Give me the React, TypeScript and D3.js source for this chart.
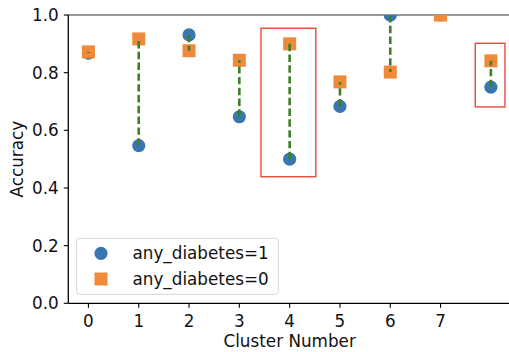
import React from "react";
import * as d3 from "d3";

// cluster index -> accuracy per group
const clusters = [0, 1, 2, 3, 4, 5, 6, 7, 8];
const tickClusters = [0, 1, 2, 3, 4, 5, 6, 7];
const accDiabetes1 = [0.868, 0.547, 0.931, 0.647, 0.5, 0.683, 1.0, 1.0, 0.75];
const accDiabetes0 = [0.872, 0.917, 0.876, 0.843, 0.9, 0.768, 0.802, 1.0, 0.841];
const yTicks = [0, 0.2, 0.4, 0.6, 0.8, 1.0];

// highlighted regions [x0, x1, y0, y1] in data units
const highlightBoxes = [
  [3.43, 4.52, 0.439, 0.954],
  [7.69, 8.28, 0.681, 0.902],
];

const legendItems = ["any_diabetes=1", "any_diabetes=0"];

const BLUE = "#3a76af";
const ORANGE = "#f08a3b";
const GREEN = "#3c7f24";
const FONT = "DejaVu Sans, sans-serif";
const FS = 16.8;

export default function App() {
  const width = 509;
  const height = 352;
  const left = 68.3, right = 511, top = 15, bottom = 303.3;

  const x = d3.scaleLinear().domain([-0.4, 8.4]).range([left, right]);
  const y = d3.scaleLinear().domain([0, 1]).range([bottom, top]);

  const markerR = 6.6;
  const sq = 13;

  return (
    <svg
      width={width}
      height={height}
      style={{ position: "absolute", left: 0, top: 0, background: "#fff" }}
      fontFamily={FONT}
    >
      <defs>
        <clipPath id="plot">
          <rect x={left} y={top} width={right - left} height={bottom - top} />
        </clipPath>
      </defs>

      {/* spines */}
      <line x1={left} x2={right} y1={top} y2={top} stroke="#777" strokeWidth={1.5} />
      <line x1={left} x2={left} y1={top} y2={bottom} stroke="#000" strokeWidth={1.3} />
      <line x1={left} x2={right} y1={bottom} y2={bottom} stroke="#000" strokeWidth={1.3} />

      {/* y ticks */}
      {yTicks.map(t => (
        <g key={t}>
          <line x1={left - 4.5} x2={left} y1={y(t)} y2={y(t)} stroke="#000" strokeWidth={1.1} />
          <text x={left - 9.5} y={y(t)} dy="0.36em" textAnchor="end" fontSize={FS} fill="#111">
            {t.toFixed(1)}
          </text>
        </g>
      ))}

      {/* x ticks */}
      {tickClusters.map(c => (
        <g key={c}>
          <line x1={x(c)} x2={x(c)} y1={bottom} y2={bottom + 4.5} stroke="#000" strokeWidth={1.1} />
          <text x={x(c)} y={326.5} textAnchor="middle" fontSize={FS} fill="#111">
            {c}
          </text>
        </g>
      ))}

      <text x={(left + right) / 2} y={346.5} textAnchor="middle" fontSize={FS} fill="#111">
        Cluster Number
      </text>
      <text
        transform={`translate(23,${(top + bottom) / 2}) rotate(-90)`}
        textAnchor="middle"
        fontSize={FS}
        fill="#111"
      >
        Accuracy
      </text>

      <g clipPath="url(#plot)">
        {clusters.map((c, i) => (
          <circle key={"c" + c} cx={x(c)} cy={y(accDiabetes1[i])} r={markerR} fill={BLUE} />
        ))}
        {clusters.map((c, i) => (
          <rect
            key={"s" + c}
            x={x(c) - sq / 2}
            y={y(accDiabetes0[i]) - sq / 2}
            width={sq}
            height={sq}
            fill={ORANGE}
          />
        ))}
        {clusters.map((c, i) => (
          <line
            key={"l" + c}
            x1={x(c)}
            x2={x(c)}
            y1={y(accDiabetes1[i])}
            y2={y(accDiabetes0[i])}
            stroke={GREEN}
            strokeWidth={2.6}
            strokeDasharray="7.4,3.4"
          />
        ))}
      </g>

      {highlightBoxes.map((b, i) => (
        <rect
          key={"h" + i}
          x={x(b[0])}
          y={y(b[3])}
          width={x(b[1]) - x(b[0])}
          height={y(b[2]) - y(b[3])}
          fill="none"
          stroke="#e8493a"
          strokeWidth={1.4}
        />
      ))}

      {/* legend */}
      <g>
        <rect x={76.7} y={238.3} width={201.6} height={56} rx={3} fill="#fff" fillOpacity={0.8} stroke="#d6d6d6" strokeWidth={1} />
        <circle cx={101} cy={253.3} r={markerR} fill={BLUE} />
        <rect x={101 - sq / 2} y={279 - sq / 2} width={sq} height={sq} fill={ORANGE} />
        {legendItems.map((t, i) => (
          <text key={t} x={132.5} y={253.3 + i * 25.7} dy="0.36em" fontSize={FS} fill="#111">
            {t}
          </text>
        ))}
      </g>
    </svg>
  );
}
